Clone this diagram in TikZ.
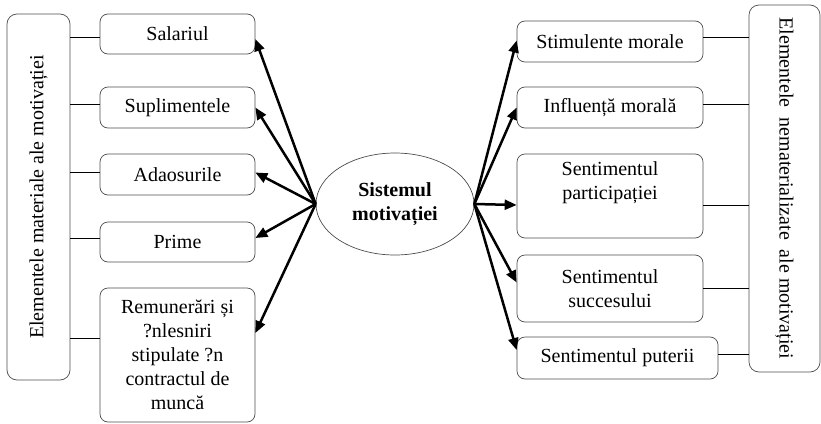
\documentclass[tikz,border=0pt]{standalone}
\usepackage{fontspec}
\setmainfont{Liberation Serif}
\usetikzlibrary{arrows.meta,calc,shapes.geometric}
\begin{document}
\begin{tikzpicture}[x=1pt,y=-1pt,
  box/.style={draw=black!70,line width=0.7pt,rounded corners=8pt,align=center,inner sep=2pt,font=\fontsize{20}{24}\selectfont},
  bigbox/.style={draw=black!70,line width=0.7pt,rounded corners=10pt,inner sep=0pt,font=\fontsize{20}{24}\selectfont},
  link/.style={line width=0.9pt},
  arr/.style={line width=2.5pt,-{Triangle[length=12pt,width=10pt]}}]
\useasboundingbox (0,0) rectangle (821,423);
% left column
\node[bigbox,minimum width=63pt,minimum height=366pt] (bigL) at (38.5,197) {};
\node[rotate=90,font=\fontsize{20}{24}\selectfont] (tL) at (bigL.center) {Elementele materiale ale motivației};
\node[box,minimum width=155pt,minimum height=40pt] (sal) at (177.5,34) {Salariul};
\node[box,minimum width=155pt,minimum height=41pt] (sup) at (177.5,107.5) {Suplimentele};
\node[box,minimum width=155pt,minimum height=41pt] (ada) at (177.5,174.5) {Adaosurile};
\node[box,minimum width=155pt,minimum height=40pt] (pri) at (177.5,242) {Prime};
\node[box,minimum width=155pt,minimum height=134pt] (rem) at (177.5,355) {Remunerări și\\?nlesniri\\stipulate ?n\\contractul de\\muncă};
% centre
\node[ellipse,draw=black!70,line width=0.7pt,minimum width=158pt,minimum height=102pt,align=center,font=\fontsize{20}{24}\selectfont\bfseries] (ell) at (395,204) {Sistemul\\motivației};
% right column
\node[box,minimum width=186pt,minimum height=41pt] (sti) at (610,41.5) {Stimulente morale};
\node[box,minimum width=186pt,minimum height=41pt] (inf) at (610,107.5) {Influență morală};
\node[box,minimum width=186pt,minimum height=84pt] (par) at (610,196) {Sentimentul\\participației\\\strut};
\node[box,minimum width=186pt,minimum height=67pt] (suc) at (610,288.5) {Sentimentul\\succesului};
\node[box,minimum width=201pt,minimum height=42pt] (put) at (617.5,358) {Sentimentul puterii};
\node[bigbox,minimum width=71pt,minimum height=367pt] (bigR) at (784.5,188.5) {};
\node[rotate=-90,font=\fontsize{20}{24}\selectfont] (tR) at (bigR.center) {Elementele\ \ nematerializate\ \ ale motivației};
% connector anchor points
\coordinate (cl1) at ($(sal.west)+(0,3)$);
\coordinate (cl2) at ($(sup.west)+(0,-3)$);
\coordinate (cl3) at ($(ada.west)+(0,-2)$);
\coordinate (cl4) at ($(pri.west)+(0,-4)$);
\coordinate (cl5) at ($(rem.west)+(0,-17)$);
\coordinate (cr1) at ($(sti.east)+(0,-4)$);
\coordinate (cr2) at ($(inf.east)+(0,-3)$);
\coordinate (cr3) at ($(par.east)+(0,9)$);
\coordinate (cr4) at (suc.east);
\coordinate (cr5) at ($(put.east)+(0,-4)$);
% connectors left
\draw[link] (cl1) -- (cl1 -| bigL.east);
\draw[link] (cl2) -- (cl2 -| bigL.east);
\draw[link] (cl3) -- (cl3 -| bigL.east);
\draw[link] (cl4) -- (cl4 -| bigL.east);
\draw[link] (cl5) -- (cl5 -| bigL.east);
% connectors right
\draw[link] (cr1) -- (cr1 -| bigR.west);
\draw[link] (cr2) -- (cr2 -| bigR.west);
\draw[link] (cr3) -- (cr3 -| bigR.west);
\draw[link] (cr4) -- (cr4 -| bigR.west);
\draw[link] (cr5) -- (cr5 -| bigR.west);
% arrow tips
\coordinate (al1) at ($(sal.east)+(0,5)$);
\coordinate (al2) at (sup.east);
\coordinate (al3) at ($(ada.east)+(0,-2)$);
\coordinate (al4) at ($(pri.east)+(0,-4)$);
\coordinate (al5) at ($(rem.east)+(0,-22)$);
\coordinate (ar1) at ($(sti.west)+(0,-1)$);
\coordinate (ar2) at (inf.west);
\coordinate (ar3) at ($(par.west)+(0,9)$);
\coordinate (ar4) at ($(suc.west)+(0,-6)$);
\coordinate (ar5) at ($(put.west)+(0,-8)$);
% arrows left
\draw[arr] (ell.west) -- (al1);
\draw[arr] (ell.west) -- (al2);
\draw[arr] (ell.west) -- (al3);
\draw[arr] (ell.west) -- (al4);
\draw[arr] (ell.west) -- (al5);
% arrows right
\draw[arr] (ell.east) -- (ar1);
\draw[arr] (ell.east) -- (ar2);
\draw[arr] (ell.east) -- (ar3);
\draw[arr] (ell.east) -- (ar4);
\draw[arr] (ell.east) -- (ar5);
\end{tikzpicture}
\end{document}
